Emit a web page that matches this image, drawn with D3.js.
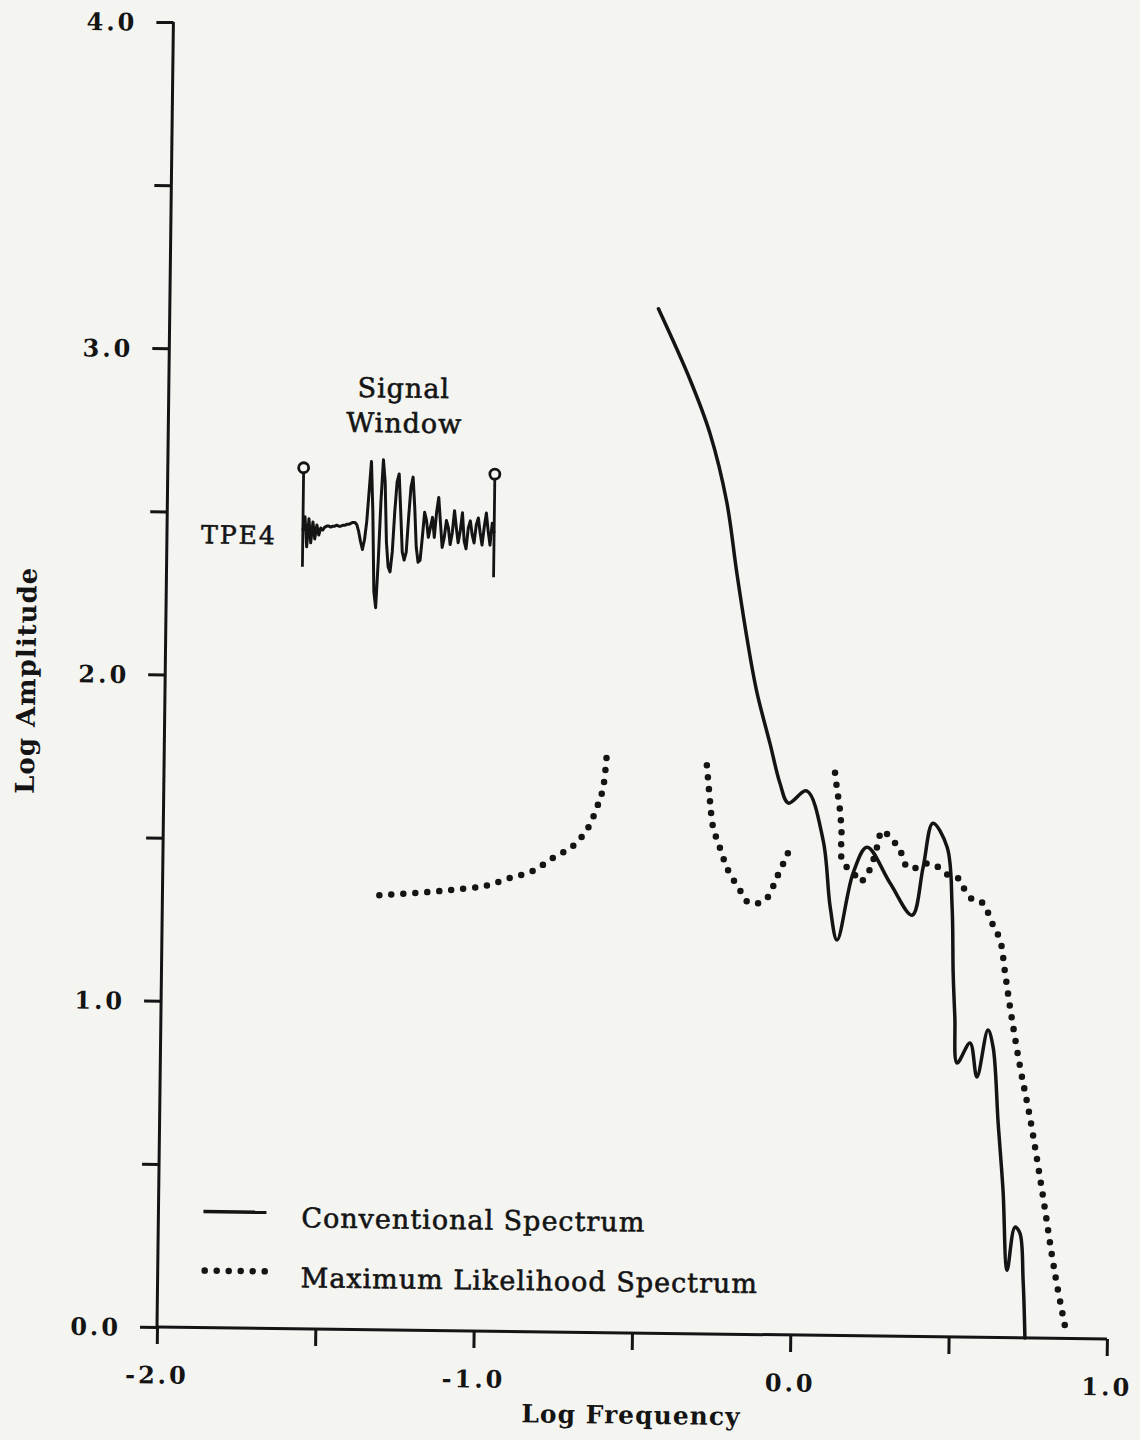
<!DOCTYPE html>
<html>
<head>
<meta charset="utf-8">
<script src="https://cdn.jsdelivr.net/npm/d3@7"></script>
<style>
  html, body { margin: 0; padding: 0; background: #f4f4f1; }
  svg { display: block; }
  text { font-family: "DejaVu Serif", "Liberation Serif", serif; fill: #141414; }
  .ink { stroke: #141414; stroke-width: 0.6px; }
</style>
</head>
<body>
<svg id="chart" width="1140" height="1440"></svg>
<script>
// ---- Conventional spectrum (solid line): log frequency / log amplitude
const convLogFreq = [-0.457, -0.354, -0.289, -0.234, -0.199, -0.165, -0.132, -0.087, -0.054, -0.027,
  0.030, 0.084, 0.109, 0.132, 0.180, 0.223, 0.297, 0.368, 0.401, 0.430,
  0.476, 0.494, 0.500, 0.507, 0.516, 0.556, 0.579, 0.612, 0.629, 0.648,
  0.666, 0.682, 0.705, 0.721, 0.733, 0.741];
const convLogAmp = [3.140, 2.923, 2.759, 2.552, 2.333, 2.137, 1.973, 1.810, 1.689, 1.630,
  1.668, 1.518, 1.313, 1.212, 1.418, 1.498, 1.389, 1.291, 1.439, 1.574,
  1.501, 1.318, 1.115, 0.981, 0.840, 0.902, 0.798, 0.942, 0.890, 0.657,
  0.452, 0.207, 0.339, 0.321, 0.177, 0.000];

// ---- Maximum likelihood spectrum (dotted), three separate bands
const mlLogFreqA = [-1.315, -1.202, -1.087, -0.979, -0.903, -0.832, -0.768, -0.706, -0.659, -0.631, -0.617, -0.610, -0.603];
const mlLogAmpA  = [1.332, 1.340, 1.351, 1.365, 1.390, 1.412, 1.453, 1.490, 1.546, 1.611, 1.651, 1.687, 1.764];

const mlLogFreqB = [-0.286, -0.282, -0.274, -0.264, -0.241, -0.215, -0.177, -0.151, -0.119, -0.091, -0.060, -0.029, -0.014];
const mlLogAmpB  = [1.743, 1.704, 1.627, 1.554, 1.489, 1.422, 1.362, 1.325, 1.322, 1.338, 1.403, 1.471, 1.508];

const mlLogFreqC = [0.119, 0.125, 0.136, 0.142, 0.143, 0.160, 0.180, 0.202, 0.223, 0.238,
  0.258, 0.269, 0.295, 0.327, 0.353, 0.391, 0.416, 0.448, 0.480, 0.507,
  0.528, 0.560, 0.591, 0.608, 0.624, 0.647, 0.664, 0.681, 0.715, 0.748,
  0.789, 0.833, 0.871];
const mlLogAmpC  = [1.725, 1.681, 1.611, 1.540, 1.464, 1.436, 1.421, 1.391, 1.412, 1.443,
  1.511, 1.549, 1.530, 1.490, 1.436, 1.440, 1.451, 1.440, 1.416, 1.411,
  1.379, 1.340, 1.331, 1.301, 1.264, 1.218, 1.117, 1.013, 0.830, 0.677,
  0.454, 0.200, 0.020];

// ---- Axis ticks
const xTickValues = [-2, -1.5, -1, -0.5, 0, 0.5, 1];
const xTickLabels = ["-2.0", "", "-1.0", "", "0.0", "", "1.0"];
const yTickValues = [0, 0.5, 1, 1.5, 2, 2.5, 3, 3.5, 4];
const yTickLabels = ["0.0", "", "1.0", "", "2.0", "", "3.0", "", "4.0"];

// ---- TPE4 seismogram inside the signal window (relative counts, equal time steps)
const tpe4Trace = [0, 14, -16, 12, -12, 9, -8, 6, -4, 3, 1,
  4, 5, 5, 4, 5, 5, 6, 5, 5, 6, 6, 7, 7, 8, 9, 9, 7,
  0, -10, -18, -8, 10, 40, 70, 20, -60, -76, -30, 30, 72, 50, -10, -35, -40, -20,
  20, 50, 58, 20, -20, -28, -20, 15, 45, 55, 25, -15, -30, -28, -5, 20, 12, -5,
  5, 15, -5, 20, 35, 10, -15, -5, 12, 5, -12, 0, 22, 5, -10, 2, 20, -8, -16,
  5, 12, -2, -10, 8, 15, 0, -12, 6, 20, 2, -12, 10, 0];
// window limits and trace baseline in axis units
const windowStart = -1.571, windowEnd = -0.967, traceBase = 2.446;

// ---- Layout
const W = 1140, H = 1440;
const ox = 157, oy = 1327;          // origin of the axes
const tilt = 0.72;                   // slight skew of the whole plate
const ink = "#141414";

const svg = d3.select("#chart");
svg.append("rect").attr("width", W).attr("height", H).attr("fill", "#f4f4f1");

const x = d3.scaleLinear().domain([-2, 1]).range([ox, ox + 950]);
const y = d3.scaleLinear().domain([0, 4]).range([oy, oy - 1305]);

const g = svg.append("g").attr("transform", `rotate(${tilt},${ox},${oy})`);

// axis lines
g.append("line").attr("x1", x(-2)).attr("x2", x(1)).attr("y1", y(0)).attr("y2", y(0))
  .attr("stroke", ink).attr("stroke-width", 3);
g.append("line").attr("x1", x(-2)).attr("x2", x(-2)).attr("y1", y(0)).attr("y2", y(4))
  .attr("stroke", ink).attr("stroke-width", 3);

// x axis ticks + labels
const xAxis = d3.axisBottom(x).tickValues(xTickValues).tickSize(17).tickSizeOuter(0)
  .tickFormat((d, i) => xTickLabels[i]);
const gx = g.append("g").attr("transform", `translate(0,${oy})`).call(xAxis);
gx.select(".domain").remove();
gx.selectAll(".tick line").attr("stroke", ink).attr("stroke-width", 3);
gx.selectAll(".tick text").attr("y", 48).attr("dy", "0.35em")
  .attr("font-size", 24).attr("font-weight", "bold").attr("letter-spacing", 3)
  .attr("fill", ink).style("font-family", '"DejaVu Serif", serif');

// y axis ticks + labels
const yAxis = d3.axisLeft(y).tickValues(yTickValues).tickSize(17).tickSizeOuter(0)
  .tickFormat((d, i) => yTickLabels[i]);
const gy = g.append("g").attr("transform", `translate(${ox},0)`).call(yAxis);
gy.select(".domain").remove();
gy.selectAll(".tick line").attr("stroke", ink).attr("stroke-width", 3);
gy.selectAll(".tick text").attr("x", -36).attr("dy", "0.35em")
  .attr("font-size", 24).attr("font-weight", "bold").attr("letter-spacing", 3)
  .attr("fill", ink).style("font-family", '"DejaVu Serif", serif');

// axis titles
g.append("text").attr("x", 632).attr("y", 1409).attr("dy", "0.35em")
  .attr("text-anchor", "middle").attr("font-size", 25).attr("font-weight", "bold")
  .attr("letter-spacing", 1).text("Log Frequency");
g.append("text").attr("transform", "translate(18,682) rotate(-90)").attr("dy", "0.35em")
  .attr("text-anchor", "middle").attr("font-size", 26).attr("font-weight", "bold")
  .attr("letter-spacing", 1).text("Log Amplitude");

// spectra
const line = d3.line().x(d => x(d[0])).y(d => y(d[1])).curve(d3.curveCatmullRom.alpha(0.5));
const zip = (a, b) => a.map((v, i) => [v, b[i]]);

const dotted = { stroke: ink, "stroke-width": 6.5, "stroke-dasharray": "0 12", "stroke-linecap": "round", fill: "none" };
[[mlLogFreqA, mlLogAmpA], [mlLogFreqB, mlLogAmpB], [mlLogFreqC, mlLogAmpC]].forEach(([f, a]) => {
  const p = g.append("path").attr("d", line(zip(f, a)));
  Object.entries(dotted).forEach(([k, v]) => p.attr(k, v));
});

g.append("path").attr("d", line(zip(convLogFreq, convLogAmp)))
  .attr("fill", "none").attr("stroke", ink).attr("stroke-width", 3.5)
  .attr("stroke-linejoin", "round").attr("stroke-linecap", "round");

// legend
g.append("line").attr("x1", 202).attr("x2", 265).attr("y1", 1211).attr("y2", 1211)
  .attr("stroke", ink).attr("stroke-width", 3.5);
g.append("text").attr("class", "ink").attr("x", 300).attr("y", 1216).attr("dy", "0.35em")
  .attr("font-size", 27).attr("letter-spacing", 1).text("Conventional Spectrum");
const lp = g.append("path").attr("d", "M204,1270H266");
Object.entries(dotted).forEach(([k, v]) => lp.attr(k, v));
g.append("text").attr("class", "ink").attr("x", 300).attr("y", 1276).attr("dy", "0.35em")
  .attr("font-size", 27).attr("letter-spacing", 1).text("Maximum Likelihood Spectrum");

// signal window inset
const tx = d3.scaleLinear().domain([0, tpe4Trace.length - 1]).range([x(windowStart), x(windowEnd)]);
const ty = d3.scaleLinear().domain([-100, 100]).range([y(traceBase) + 100, y(traceBase) - 100]);
const inset = g.append("g");
[[0, 100, 36], [tpe4Trace.length - 1, 96, 44]].forEach(([i, top, bot]) => {
  inset.append("line").attr("x1", tx(i)).attr("x2", tx(i))
    .attr("y1", ty(0) - top + 42).attr("y2", ty(0) + bot)
    .attr("stroke", ink).attr("stroke-width", 2.8);
  inset.append("circle").attr("cx", tx(i)).attr("cy", ty(0) - top + 37).attr("r", 5)
    .attr("fill", "#f4f4f1").attr("stroke", ink).attr("stroke-width", 2.8);
});
inset.append("path")
  .attr("d", d3.line().x((d, i) => tx(i)).y(d => ty(d)).curve(d3.curveLinear)(tpe4Trace))
  .attr("fill", "none").attr("stroke", ink).attr("stroke-width", 3).attr("stroke-linejoin", "round");

inset.append("text").attr("class", "ink").attr("x", tx(0) - 26).attr("y", ty(0) + 5).attr("dy", "0.35em")
  .attr("text-anchor", "end").attr("font-size", 25).attr("letter-spacing", 2).text("TPE4");
inset.append("text").attr("class", "ink").attr("x", 392).attr("y", 385).attr("dy", "0.35em")
  .attr("text-anchor", "middle").attr("font-size", 27).attr("letter-spacing", 1).text("Signal");
inset.append("text").attr("class", "ink").attr("x", 393).attr("y", 420).attr("dy", "0.35em")
  .attr("text-anchor", "middle").attr("font-size", 27).attr("letter-spacing", 1).text("Window");
</script>
</body>
</html>
